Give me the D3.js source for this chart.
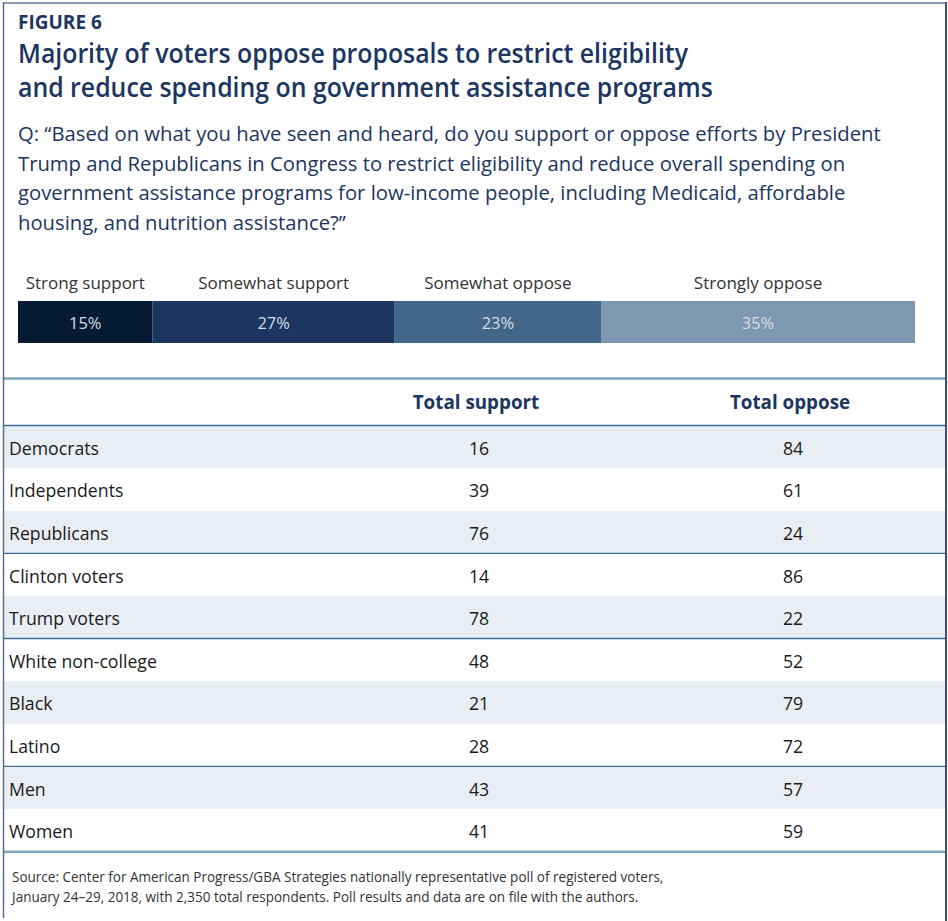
<!DOCTYPE html>
<html>
<head>
<meta charset="utf-8">
<script src="https://cdn.jsdelivr.net/npm/d3@7"></script>
<style>
  body { margin: 0; background: #fff; }
  svg { display: block; }
  text { font-family: "Open Sans", "Noto Sans", sans-serif; }
</style>
</head>
<body>
<svg id="chart" width="948" height="921"></svg>
<script>
// ---- Content ----
const figureLabel = "FIGURE 6";
const titleLines = [
  "Majority of voters oppose proposals to restrict eligibility",
  "and reduce spending on government assistance programs"
];
const questionLines = [
  "Q: \u201CBased on what you have seen and heard, do you support or oppose efforts by President",
  "Trump and Republicans in Congress to restrict eligibility and reduce overall spending on",
  "government assistance programs for low-income people, including Medicaid, affordable",
  "housing, and nutrition assistance?\u201D"
];
const responseCategories = ["Strong support", "Somewhat support", "Somewhat oppose", "Strongly oppose"];
const responseShares = [15, 27, 23, 35];
const responseColors = ["#061a33", "#1c3561", "#426789", "#7f98b1"];

const columnHeaders = ["Total support", "Total oppose"];
const groups = ["Democrats", "Independents", "Republicans", "Clinton voters", "Trump voters",
                "White non-college", "Black", "Latino", "Men", "Women"];
const totalSupport = [16, 39, 76, 14, 78, 48, 21, 28, 43, 41];
const totalOppose  = [84, 61, 24, 86, 22, 52, 79, 72, 57, 59];
const groupBreaks = ["Republicans", "Trump voters", "Latino"];

const sourceLines = [
  "Source: Center for American Progress/GBA Strategies nationally representative poll of registered voters,",
  "January 24\u201329, 2018, with 2,350 total respondents. Poll results and data are on file with the authors."
];

// ---- Drawing ----
const W = 948, H = 921;
const svg = d3.select("#chart");
const navy = "#1c3561";

// Tighten or relax glyph spacing of a text run by factor k
function condense(sel, k) {
  sel.each(function () {
    const w = this.getComputedTextLength();
    d3.select(this).attr("textLength", w * k).attr("lengthAdjust", "spacingAndGlyphs");
  });
}

// Header block
svg.append("text").attr("x", 18).attr("y", 29)
  .attr("font-size", 19).attr("font-weight", 700).attr("fill", navy)
  .text(figureLabel).call(condense, 1.0);

svg.selectAll("text.title").data(titleLines).join("text")
  .attr("class", "title")
  .attr("x", 18).attr("y", (d, i) => 63 + i * 34)
  .attr("font-size", 27).attr("font-weight", 600).attr("fill", navy)
  .text(d => d).call(condense, 0.92);

svg.selectAll("text.question").data(questionLines).join("text")
  .attr("class", "question")
  .attr("x", 18).attr("y", (d, i) => 141 + i * 29.7)
  .attr("font-size", 20).attr("fill", navy)
  .text(d => d).call(condense, 1.013);

// Stacked response bar
const xShare = d3.scaleLinear().domain([0, d3.sum(responseShares)]).range([18, 915]);
const ends = d3.cumsum(responseShares);
const segs = responseShares.map((v, i) => ({
  cat: responseCategories[i], value: v, x0: ends[i] - v, x1: ends[i], color: responseColors[i]
}));
const barTop = 301, barH = 42;

svg.selectAll("rect.seg").data(segs).join("rect")
  .attr("class", "seg")
  .attr("x", d => xShare(d.x0)).attr("width", d => xShare(d.x1) - xShare(d.x0))
  .attr("y", barTop).attr("height", barH)
  .attr("fill", d => d.color);

svg.selectAll("text.segval").data(segs).join("text")
  .attr("class", "segval")
  .attr("x", d => xShare((d.x0 + d.x1) / 2)).attr("y", barTop + 27.5)
  .attr("text-anchor", "middle").attr("font-size", 17).attr("fill", "#d6dde7")
  .text(d => d.value + "%").call(condense, 0.97);

svg.selectAll("text.segcat").data(segs).join("text")
  .attr("class", "segcat")
  .attr("x", d => xShare((d.x0 + d.x1) / 2)).attr("y", 289)
  .attr("text-anchor", "middle").attr("font-size", 17).attr("fill", "#333")
  .text(d => d.cat).call(condense, 1.0);

// Table
const yRow = d3.scaleBand().domain(groups).range([425.5, 851.5]);
const xCol = d3.scaleOrdinal().domain(columnHeaders).range([476, 790]);
const rows = groups.map((g, i) => ({ g, i, values: [totalSupport[i], totalOppose[i]] }));

svg.selectAll("rect.stripe").data(rows.filter(r => r.i % 2 === 0)).join("rect")
  .attr("class", "stripe")
  .attr("x", 4).attr("width", W - 6)
  .attr("y", d => yRow(d.g)).attr("height", yRow.bandwidth())
  .attr("fill", "#e9eef5");

svg.selectAll("text.colhead").data(columnHeaders).join("text")
  .attr("class", "colhead")
  .attr("x", d => xCol(d)).attr("y", 409)
  .attr("text-anchor", "middle").attr("font-size", 20).attr("font-weight", 700).attr("fill", navy)
  .text(d => d).call(condense, 0.94);

svg.selectAll("text.rowlabel").data(rows).join("text")
  .attr("class", "rowlabel")
  .attr("x", 9).attr("y", d => yRow(d.g) + yRow.bandwidth() / 2 + 8)
  .attr("font-size", 18.5).attr("fill", "#1a1a1a")
  .text(d => d.g).call(condense, 0.955);

const cells = rows.flatMap(r => r.values.map((v, j) => ({ g: r.g, col: columnHeaders[j], v })));
svg.selectAll("text.cell").data(cells).join("text")
  .attr("class", "cell")
  .attr("x", d => xCol(d.col) + 3).attr("y", d => yRow(d.g) + yRow.bandwidth() / 2 + 8)
  .attr("text-anchor", "middle").attr("font-size", 18.5).attr("fill", "#1a1a1a")
  .text(d => d.v).call(condense, 0.955);

// Rules
svg.append("line").attr("x1", 3).attr("x2", W - 2).attr("y1", 425.5).attr("y2", 425.5)
  .attr("stroke", "#3e6d99").attr("stroke-width", 1.3);
svg.selectAll("line.break").data(groupBreaks).join("line")
  .attr("class", "break")
  .attr("x1", 3).attr("x2", W - 2)
  .attr("y1", d => yRow(d) + yRow.bandwidth()).attr("y2", d => yRow(d) + yRow.bandwidth())
  .attr("stroke", "#3e6d99").attr("stroke-width", 1.3);

[378.5, 851.8].forEach(y => {
  svg.append("line").attr("x1", 3).attr("x2", W - 2).attr("y1", y).attr("y2", y)
    .attr("stroke", "#7fa6c1").attr("stroke-width", 2.5);
});

// Source note
svg.selectAll("text.source").data(sourceLines).join("text")
  .attr("class", "source")
  .attr("x", 12).attr("y", (d, i) => 882 + i * 20)
  .attr("font-size", 14).attr("fill", "#333")
  .text(d => d).call(condense, 0.965);

// Frame
svg.append("line").attr("x1", 3).attr("x2", W - 1).attr("y1", 3).attr("y2", 3)
  .attr("stroke", "#8a9ab4").attr("stroke-width", 2);
svg.append("line").attr("x1", 3.5).attr("x2", 3.5).attr("y1", 2).attr("y2", H - 3)
  .attr("stroke", "#5a6e90").attr("stroke-width", 1.5);
svg.append("line").attr("x1", 946).attr("x2", 946).attr("y1", 2).attr("y2", H)
  .attr("stroke", "#3b5074").attr("stroke-width", 2);
</script>
</body>
</html>
